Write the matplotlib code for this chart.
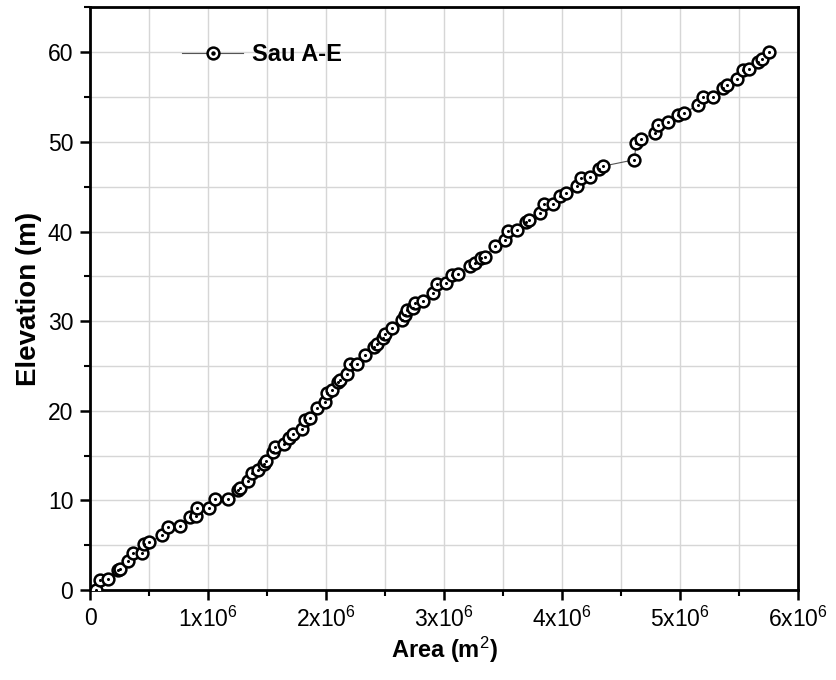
import numpy as np
import matplotlib
matplotlib.use("Agg")
import matplotlib.pyplot as plt
from matplotlib.ticker import MultipleLocator, FuncFormatter
from matplotlib.lines import Line2D

# Sau reservoir, elevation-area curve
area_mm2 = [0.05, 0.085, 0.15, 0.24, 0.25, 0.32, 0.36, 0.44, 0.46, 0.50,
            0.61, 0.66, 0.76, 0.85, 0.90, 0.91, 1.01, 1.06, 1.17, 1.25,
            1.27, 1.34, 1.37, 1.42, 1.47, 1.49, 1.55, 1.57, 1.64, 1.69,
            1.72, 1.80, 1.82, 1.86, 1.92, 1.99, 2.01, 2.05, 2.10, 2.12,
            2.18, 2.20, 2.26, 2.33, 2.41, 2.43, 2.48, 2.50, 2.56, 2.64,
            2.67, 2.69, 2.74, 2.75, 2.82, 2.91, 2.94, 3.02, 3.07, 3.12,
            3.22, 3.26, 3.31, 3.35, 3.43, 3.52, 3.54, 3.62, 3.69, 3.72,
            3.81, 3.85, 3.92, 3.98, 4.03, 4.13, 4.16, 4.24, 4.31, 4.35,
            4.61, 4.63, 4.67, 4.79, 4.81, 4.90, 4.98, 5.03, 5.15, 5.19,
            5.28, 5.36, 5.40, 5.48, 5.53, 5.58, 5.66, 5.69, 5.75]
elevation = [0.0, 1.1, 1.2, 2.2, 2.3, 3.2, 4.1, 4.1, 5.1, 5.3,
             6.1, 7.0, 7.1, 8.1, 8.2, 9.1, 9.1, 10.1, 10.2, 11.1,
             11.4, 12.2, 13.0, 13.4, 14.1, 14.4, 15.4, 16.0, 16.3, 17.0,
             17.4, 18.0, 19.0, 19.2, 20.3, 21.0, 22.0, 22.3, 23.2, 23.4,
             24.1, 25.2, 25.2, 26.2, 27.1, 27.5, 28.1, 28.6, 29.2, 30.1,
             30.7, 31.2, 31.5, 32.0, 32.2, 33.1, 34.1, 34.2, 35.1, 35.3,
             36.2, 36.5, 37.1, 37.2, 38.4, 39.1, 40.1, 40.2, 41.1, 41.3,
             42.1, 43.1, 43.1, 44.0, 44.3, 45.1, 46.0, 46.1, 47.0, 47.3,
             48.0, 49.9, 50.3, 51.0, 51.9, 52.2, 53.0, 53.2, 54.1, 55.0,
             55.0, 56.0, 56.3, 57.0, 58.0, 58.1, 58.9, 59.2, 60.0]
series_name = "Sau A-E"

plt.rcParams["font.family"] = ["Liberation Sans", "DejaVu Sans"]
plt.rcParams["mathtext.fontset"] = "custom"
plt.rcParams["mathtext.rm"] = "Liberation Sans"
plt.rcParams["mathtext.it"] = "Liberation Sans"
plt.rcParams["mathtext.bf"] = "Liberation Sans:bold"

area = np.array(area_mm2) * 1e6

fig = plt.figure(figsize=(8.36, 6.80), dpi=100)
ax = fig.add_axes([0.1077, 0.1324, 0.847, 0.8566])

ax.plot(area, elevation, "-", color="#555555", lw=0.8, zorder=3)
ax.plot(area, elevation, "o", ms=8.5, mfc="white", mec="black", mew=1.8, zorder=4)
ax.plot(area, elevation, "o", ms=2.2, mfc="black", mec="black", mew=0, zorder=5)

ax.set_xlim(0, 6e6)
ax.set_ylim(0, 65)
ax.xaxis.set_major_locator(MultipleLocator(1e6))
ax.xaxis.set_minor_locator(MultipleLocator(0.5e6))
ax.yaxis.set_major_locator(MultipleLocator(10))
ax.yaxis.set_minor_locator(MultipleLocator(5))


def fmt_x(v, pos):
    n = int(round(v / 1e6))
    return "0" if n == 0 else f"{n}x10$^6$"


ax.xaxis.set_major_formatter(FuncFormatter(fmt_x))

ax.grid(True, which="both", color="#d6d6d6", lw=1.0, zorder=0)
ax.set_axisbelow(True)
for s in ax.spines.values():
    s.set_linewidth(2.0)
ax.tick_params(which="major", direction="out", length=7, width=1.8, labelsize=16.5, pad=5)
ax.tick_params(which="minor", direction="out", length=4, width=1.5)

ax.set_xlabel("Area (m$^2$)", fontsize=17, fontweight="bold", labelpad=2)
ax.set_ylabel("Elevation (m)", fontsize=20, fontweight="bold", labelpad=4)

h1 = Line2D([], [], color="#555555", lw=0.8, marker="o", ms=8.5, mfc="white", mec="black", mew=1.8)
h2 = Line2D([], [], ls="none", marker="o", ms=2.2, mfc="black", mec="black")
ax.legend([(h1, h2)], [series_name], loc="upper left", bbox_to_anchor=(0.1, 0.975),
          frameon=False, handlelength=2.6, handletextpad=0.35,
          prop={"weight": "bold", "size": 17})

fig.savefig("out.png", dpi=100)
